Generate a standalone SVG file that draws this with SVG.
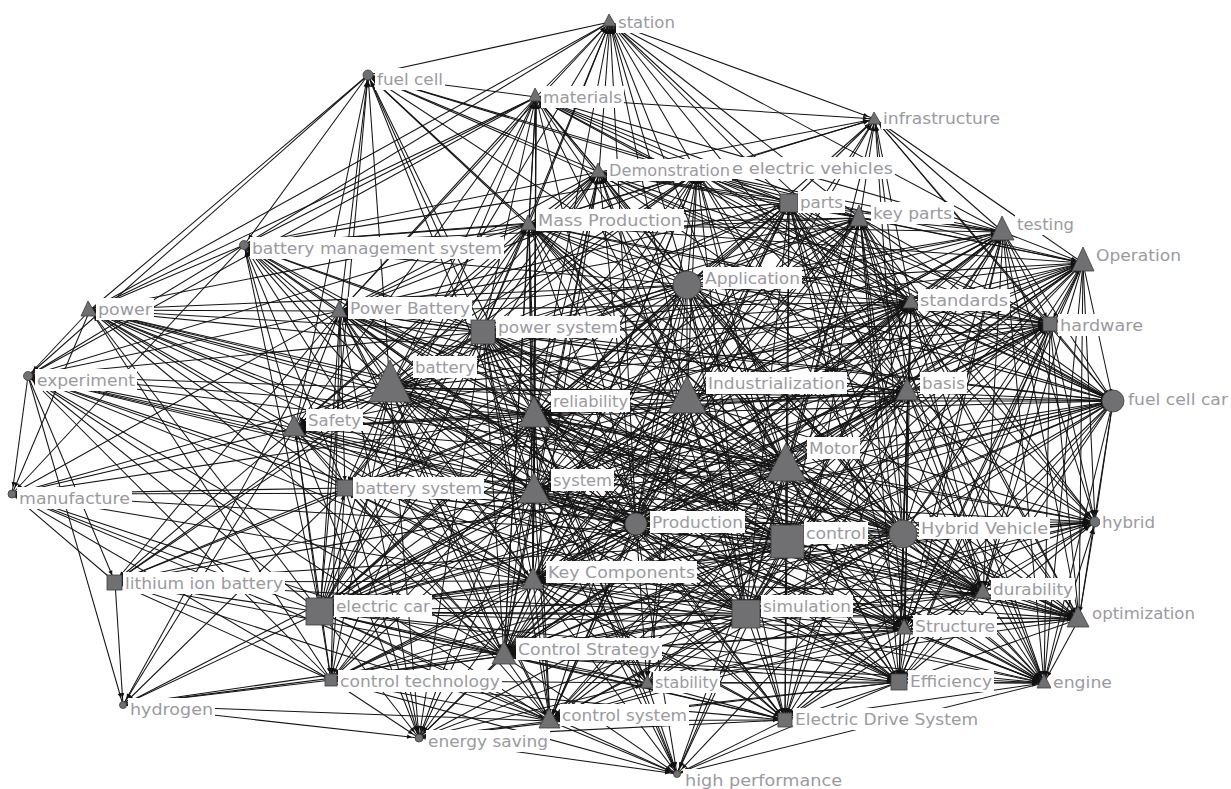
<svg xmlns="http://www.w3.org/2000/svg" width="1231" height="789" viewBox="0 0 1231 789">
<defs>
<style>
#connectors path{fill:none;stroke:#141414;stroke-width:1.05;marker-end:url(#ah)}
.n{fill:#707073;stroke:#3d3d3d;stroke-width:.8}
.b{fill:#fff}
.t{font-family:"DejaVu Sans","Liberation Sans",sans-serif;font-size:16.5px;fill:#9a9aa1}
</style>
<marker id="ah" markerUnits="userSpaceOnUse" markerWidth="14" markerHeight="6" refX="14" refY="3" orient="auto"><path d="M2 .9L7 3L2 5.1Z" fill="#111"/></marker>
</defs>
<rect width="1231" height="789" fill="#fff"/>
<g id="connectors">
<g id="e-ba">
<path d="M390 388L90 310"/><path d="M390 388L28 376"/><path d="M390 388L12 494"/><path d="M390 388L368 75"/><path d="M390 388L610 22"/><path d="M390 388L536 97"/><path d="M390 388L529 224"/><path d="M390 388L244 245"/><path d="M390 388L340 311"/><path d="M390 388L483 332"/><path d="M390 388L295 428"/><path d="M390 388L345 488"/><path d="M390 388L535 416"/><path d="M390 388L534 493"/><path d="M390 388L687 401"/><path d="M390 388L687 285"/><path d="M390 388L786 468"/><path d="M390 388L787 541"/><path d="M390 388L636 524"/><path d="M390 388L533 581"/><path d="M390 388L320 612"/><path d="M390 388L504 656"/><path d="M390 388L331 680"/><path d="M390 388L115 582"/><path d="M390 388L419 738"/><path d="M390 388L550 721"/><path d="M390 388L746 614"/><path d="M390 388L903 534"/><path d="M390 388L908 392"/><path d="M390 388L911 302"/><path d="M390 388L1113 401"/><path d="M390 388L983 593"/><path d="M390 388L1079 619"/><path d="M390 388L905 629"/><path d="M390 388L899 682"/><path d="M390 388L785 720"/><path d="M390 388L860 218"/><path d="M390 388L789 203"/><path d="M390 388L599 172"/><path d="M390 388L697 172"/><path d="M390 388L1003 232"/><path d="M390 388L1050 324"/>
</g>
<g id="e-id">
<path d="M687 401L610 22"/><path d="M687 401L536 97"/><path d="M687 401L599 172"/><path d="M687 401L697 172"/><path d="M687 401L789 203"/><path d="M687 401L860 218"/><path d="M687 401L1003 232"/><path d="M687 401L1083 263"/><path d="M687 401L529 224"/><path d="M687 401L687 285"/><path d="M687 401L911 302"/><path d="M687 401L1050 324"/><path d="M687 401L908 392"/><path d="M687 401L1113 401"/><path d="M687 401L483 332"/><path d="M687 401L340 311"/><path d="M687 401L535 416"/><path d="M687 401L534 493"/><path d="M687 401L636 524"/><path d="M687 401L787 541"/><path d="M687 401L786 468"/><path d="M687 401L903 534"/><path d="M687 401L1095 522"/><path d="M687 401L533 581"/><path d="M687 401L983 593"/><path d="M687 401L746 614"/><path d="M687 401L1079 619"/><path d="M687 401L905 629"/><path d="M687 401L504 656"/><path d="M687 401L320 612"/><path d="M687 401L295 428"/><path d="M687 401L345 488"/><path d="M687 401L244 245"/><path d="M687 401L875 119"/><path d="M687 401L899 682"/><path d="M687 401L1044 683"/><path d="M687 401L550 721"/><path d="M687 401L785 720"/><path d="M687 401L647 683"/>
</g>
<g id="e-mo">
<path d="M786 468L90 310"/><path d="M786 468L28 376"/><path d="M786 468L115 582"/><path d="M786 468L368 75"/><path d="M786 468L610 22"/><path d="M786 468L536 97"/><path d="M786 468L599 172"/><path d="M786 468L697 172"/><path d="M786 468L789 203"/><path d="M786 468L860 218"/><path d="M786 468L1003 232"/><path d="M786 468L1083 263"/><path d="M786 468L875 119"/><path d="M786 468L529 224"/><path d="M786 468L687 285"/><path d="M786 468L911 302"/><path d="M786 468L1050 324"/><path d="M786 468L908 392"/><path d="M786 468L1113 401"/><path d="M786 468L483 332"/><path d="M786 468L340 311"/><path d="M786 468L535 416"/><path d="M786 468L534 493"/><path d="M786 468L636 524"/><path d="M786 468L787 541"/><path d="M786 468L903 534"/><path d="M786 468L1095 522"/><path d="M786 468L533 581"/><path d="M786 468L983 593"/><path d="M786 468L746 614"/><path d="M786 468L1079 619"/><path d="M786 468L905 629"/><path d="M786 468L504 656"/><path d="M786 468L320 612"/><path d="M786 468L295 428"/><path d="M786 468L345 488"/><path d="M786 468L331 680"/><path d="M786 468L647 683"/><path d="M786 468L899 682"/><path d="M786 468L1044 683"/><path d="M786 468L550 721"/><path d="M786 468L785 720"/><path d="M786 468L677 774"/>
</g>
<g id="e-co">
<path d="M787 541L90 310"/><path d="M787 541L28 376"/><path d="M787 541L12 494"/><path d="M787 541L115 582"/><path d="M787 541L244 245"/><path d="M787 541L340 311"/><path d="M787 541L483 332"/><path d="M787 541L535 416"/><path d="M787 541L534 493"/><path d="M787 541L636 524"/><path d="M787 541L903 534"/><path d="M787 541L1095 522"/><path d="M787 541L533 581"/><path d="M787 541L983 593"/><path d="M787 541L746 614"/><path d="M787 541L1079 619"/><path d="M787 541L905 629"/><path d="M787 541L504 656"/><path d="M787 541L320 612"/><path d="M787 541L295 428"/><path d="M787 541L345 488"/><path d="M787 541L331 680"/><path d="M787 541L647 683"/><path d="M787 541L899 682"/><path d="M787 541L1044 683"/><path d="M787 541L550 721"/><path d="M787 541L785 720"/><path d="M787 541L419 738"/><path d="M787 541L677 774"/><path d="M787 541L687 285"/><path d="M787 541L911 302"/><path d="M787 541L908 392"/><path d="M787 541L1113 401"/><path d="M787 541L1050 324"/><path d="M787 541L1083 263"/><path d="M787 541L1003 232"/><path d="M787 541L860 218"/><path d="M787 541L789 203"/><path d="M787 541L697 172"/><path d="M787 541L529 224"/>
</g>
<g id="e-ap">
<path d="M687 285L610 22"/><path d="M687 285L368 75"/><path d="M687 285L536 97"/><path d="M687 285L875 119"/><path d="M687 285L599 172"/><path d="M687 285L697 172"/><path d="M687 285L789 203"/><path d="M687 285L860 218"/><path d="M687 285L1003 232"/><path d="M687 285L1083 263"/><path d="M687 285L529 224"/><path d="M687 285L244 245"/><path d="M687 285L90 310"/><path d="M687 285L340 311"/><path d="M687 285L483 332"/><path d="M687 285L911 302"/><path d="M687 285L1050 324"/><path d="M687 285L908 392"/><path d="M687 285L535 416"/><path d="M687 285L295 428"/><path d="M687 285L1113 401"/><path d="M687 285L534 493"/><path d="M687 285L345 488"/><path d="M687 285L636 524"/><path d="M687 285L903 534"/><path d="M687 285L1095 522"/><path d="M687 285L533 581"/><path d="M687 285L983 593"/><path d="M687 285L320 612"/><path d="M687 285L746 614"/><path d="M687 285L1079 619"/><path d="M687 285L905 629"/><path d="M687 285L504 656"/><path d="M687 285L331 680"/><path d="M687 285L647 683"/><path d="M687 285L899 682"/><path d="M687 285L1044 683"/><path d="M687 285L550 721"/><path d="M687 285L785 720"/>
</g>
<g id="e-re">
<path d="M535 416L90 310"/><path d="M535 416L28 376"/><path d="M535 416L12 494"/><path d="M535 416L610 22"/><path d="M535 416L368 75"/><path d="M535 416L536 97"/><path d="M535 416L599 172"/><path d="M535 416L697 172"/><path d="M535 416L789 203"/><path d="M535 416L860 218"/><path d="M535 416L1003 232"/><path d="M535 416L1083 263"/><path d="M535 416L529 224"/><path d="M535 416L244 245"/><path d="M535 416L340 311"/><path d="M535 416L483 332"/><path d="M535 416L911 302"/><path d="M535 416L1050 324"/><path d="M535 416L908 392"/><path d="M535 416L295 428"/><path d="M535 416L1113 401"/><path d="M535 416L534 493"/><path d="M535 416L345 488"/><path d="M535 416L636 524"/><path d="M535 416L903 534"/><path d="M535 416L1095 522"/><path d="M535 416L115 582"/><path d="M535 416L533 581"/><path d="M535 416L983 593"/><path d="M535 416L320 612"/><path d="M535 416L746 614"/><path d="M535 416L1079 619"/><path d="M535 416L905 629"/><path d="M535 416L504 656"/><path d="M535 416L331 680"/><path d="M535 416L647 683"/><path d="M535 416L899 682"/><path d="M535 416L1044 683"/><path d="M535 416L550 721"/><path d="M535 416L785 720"/><path d="M535 416L419 738"/><path d="M535 416L677 774"/>
</g>
<g id="e-sy">
<path d="M534 493L90 310"/><path d="M534 493L28 376"/><path d="M534 493L12 494"/><path d="M534 493L368 75"/><path d="M534 493L536 97"/><path d="M534 493L599 172"/><path d="M534 493L697 172"/><path d="M534 493L789 203"/><path d="M534 493L860 218"/><path d="M534 493L1003 232"/><path d="M534 493L1083 263"/><path d="M534 493L529 224"/><path d="M534 493L244 245"/><path d="M534 493L340 311"/><path d="M534 493L483 332"/><path d="M534 493L911 302"/><path d="M534 493L1050 324"/><path d="M534 493L908 392"/><path d="M534 493L295 428"/><path d="M534 493L1113 401"/><path d="M534 493L345 488"/><path d="M534 493L636 524"/><path d="M534 493L903 534"/><path d="M534 493L1095 522"/><path d="M534 493L115 582"/><path d="M534 493L533 581"/><path d="M534 493L983 593"/><path d="M534 493L320 612"/><path d="M534 493L746 614"/><path d="M534 493L1079 619"/><path d="M534 493L905 629"/><path d="M534 493L504 656"/><path d="M534 493L331 680"/><path d="M534 493L647 683"/><path d="M534 493L899 682"/><path d="M534 493L1044 683"/><path d="M534 493L123 705"/><path d="M534 493L550 721"/><path d="M534 493L785 720"/><path d="M534 493L419 738"/><path d="M534 493L677 774"/>
</g>
<g id="e-ps">
<path d="M483 332L610 22"/><path d="M483 332L368 75"/><path d="M483 332L536 97"/><path d="M483 332L599 172"/><path d="M483 332L697 172"/><path d="M483 332L789 203"/><path d="M483 332L860 218"/><path d="M483 332L1003 232"/><path d="M483 332L1083 263"/><path d="M483 332L529 224"/><path d="M483 332L244 245"/><path d="M483 332L90 310"/><path d="M483 332L340 311"/><path d="M483 332L911 302"/><path d="M483 332L1050 324"/><path d="M483 332L908 392"/><path d="M483 332L28 376"/><path d="M483 332L295 428"/><path d="M483 332L1113 401"/><path d="M483 332L345 488"/><path d="M483 332L636 524"/><path d="M483 332L903 534"/><path d="M483 332L115 582"/><path d="M483 332L533 581"/><path d="M483 332L983 593"/><path d="M483 332L320 612"/><path d="M483 332L746 614"/><path d="M483 332L1079 619"/><path d="M483 332L905 629"/><path d="M483 332L504 656"/><path d="M483 332L331 680"/><path d="M483 332L647 683"/><path d="M483 332L899 682"/><path d="M483 332L1044 683"/><path d="M483 332L550 721"/><path d="M483 332L785 720"/><path d="M483 332L419 738"/><path d="M483 332L677 774"/>
</g>
<g id="e-hv">
<path d="M903 534L536 97"/><path d="M903 534L599 172"/><path d="M903 534L697 172"/><path d="M903 534L789 203"/><path d="M903 534L860 218"/><path d="M903 534L1003 232"/><path d="M903 534L1083 263"/><path d="M903 534L875 119"/><path d="M903 534L529 224"/><path d="M903 534L911 302"/><path d="M903 534L1050 324"/><path d="M903 534L908 392"/><path d="M903 534L1113 401"/><path d="M903 534L340 311"/><path d="M903 534L295 428"/><path d="M903 534L345 488"/><path d="M903 534L636 524"/><path d="M903 534L1095 522"/><path d="M903 534L533 581"/><path d="M903 534L983 593"/><path d="M903 534L320 612"/><path d="M903 534L746 614"/><path d="M903 534L1079 619"/><path d="M903 534L905 629"/><path d="M903 534L504 656"/><path d="M903 534L331 680"/><path d="M903 534L647 683"/><path d="M903 534L899 682"/><path d="M903 534L1044 683"/><path d="M903 534L550 721"/><path d="M903 534L785 720"/><path d="M903 534L677 774"/><path d="M903 534L90 310"/>
</g>
<g id="e-si">
<path d="M746 614L90 310"/><path d="M746 614L28 376"/><path d="M746 614L115 582"/><path d="M746 614L697 172"/><path d="M746 614L789 203"/><path d="M746 614L860 218"/><path d="M746 614L1003 232"/><path d="M746 614L1083 263"/><path d="M746 614L529 224"/><path d="M746 614L911 302"/><path d="M746 614L1050 324"/><path d="M746 614L908 392"/><path d="M746 614L1113 401"/><path d="M746 614L340 311"/><path d="M746 614L295 428"/><path d="M746 614L345 488"/><path d="M746 614L636 524"/><path d="M746 614L1095 522"/><path d="M746 614L533 581"/><path d="M746 614L983 593"/><path d="M746 614L320 612"/><path d="M746 614L1079 619"/><path d="M746 614L905 629"/><path d="M746 614L504 656"/><path d="M746 614L331 680"/><path d="M746 614L647 683"/><path d="M746 614L899 682"/><path d="M746 614L1044 683"/><path d="M746 614L123 705"/><path d="M746 614L550 721"/><path d="M746 614L785 720"/><path d="M746 614L419 738"/><path d="M746 614L677 774"/><path d="M746 614L599 172"/>
</g>
<g id="e-ec">
<path d="M320 612L90 310"/><path d="M320 612L28 376"/><path d="M320 612L12 494"/><path d="M320 612L115 582"/><path d="M320 612L123 705"/><path d="M320 612L244 245"/><path d="M320 612L368 75"/><path d="M320 612L536 97"/><path d="M320 612L599 172"/><path d="M320 612L697 172"/><path d="M320 612L789 203"/><path d="M320 612L860 218"/><path d="M320 612L1003 232"/><path d="M320 612L1083 263"/><path d="M320 612L529 224"/><path d="M320 612L340 311"/><path d="M320 612L911 302"/><path d="M320 612L1050 324"/><path d="M320 612L908 392"/><path d="M320 612L1113 401"/><path d="M320 612L295 428"/><path d="M320 612L345 488"/><path d="M320 612L636 524"/><path d="M320 612L1095 522"/><path d="M320 612L533 581"/><path d="M320 612L983 593"/><path d="M320 612L1079 619"/><path d="M320 612L905 629"/><path d="M320 612L504 656"/><path d="M320 612L331 680"/><path d="M320 612L647 683"/><path d="M320 612L899 682"/><path d="M320 612L1044 683"/><path d="M320 612L550 721"/><path d="M320 612L785 720"/><path d="M320 612L419 738"/><path d="M320 612L677 774"/>
</g>
<g id="e-kc">
<path d="M533 581L90 310"/><path d="M533 581L28 376"/><path d="M533 581L12 494"/><path d="M533 581L115 582"/><path d="M533 581L244 245"/><path d="M533 581L536 97"/><path d="M533 581L599 172"/><path d="M533 581L697 172"/><path d="M533 581L789 203"/><path d="M533 581L860 218"/><path d="M533 581L1003 232"/><path d="M533 581L1083 263"/><path d="M533 581L529 224"/><path d="M533 581L340 311"/><path d="M533 581L911 302"/><path d="M533 581L1050 324"/><path d="M533 581L908 392"/><path d="M533 581L1113 401"/><path d="M533 581L295 428"/><path d="M533 581L345 488"/><path d="M533 581L636 524"/><path d="M533 581L1095 522"/><path d="M533 581L983 593"/><path d="M533 581L1079 619"/><path d="M533 581L905 629"/><path d="M533 581L504 656"/><path d="M533 581L331 680"/><path d="M533 581L647 683"/><path d="M533 581L899 682"/><path d="M533 581L1044 683"/><path d="M533 581L550 721"/><path d="M533 581L785 720"/><path d="M533 581L419 738"/><path d="M533 581L677 774"/>
</g>
<g id="e-cs">
<path d="M504 656L90 310"/><path d="M504 656L28 376"/><path d="M504 656L12 494"/><path d="M504 656L115 582"/><path d="M504 656L123 705"/><path d="M504 656L244 245"/><path d="M504 656L536 97"/><path d="M504 656L599 172"/><path d="M504 656L697 172"/><path d="M504 656L789 203"/><path d="M504 656L860 218"/><path d="M504 656L1003 232"/><path d="M504 656L1083 263"/><path d="M504 656L529 224"/><path d="M504 656L340 311"/><path d="M504 656L911 302"/><path d="M504 656L1050 324"/><path d="M504 656L908 392"/><path d="M504 656L1113 401"/><path d="M504 656L295 428"/><path d="M504 656L345 488"/><path d="M504 656L636 524"/><path d="M504 656L1095 522"/><path d="M504 656L983 593"/><path d="M504 656L1079 619"/><path d="M504 656L905 629"/><path d="M504 656L331 680"/><path d="M504 656L647 683"/><path d="M504 656L899 682"/><path d="M504 656L1044 683"/><path d="M504 656L550 721"/><path d="M504 656L785 720"/><path d="M504 656L419 738"/><path d="M504 656L677 774"/>
</g>
<g id="e-pr">
<path d="M636 524L90 310"/><path d="M636 524L28 376"/><path d="M636 524L610 22"/><path d="M636 524L536 97"/><path d="M636 524L599 172"/><path d="M636 524L697 172"/><path d="M636 524L789 203"/><path d="M636 524L860 218"/><path d="M636 524L1003 232"/><path d="M636 524L1083 263"/><path d="M636 524L875 119"/><path d="M636 524L529 224"/><path d="M636 524L244 245"/><path d="M636 524L340 311"/><path d="M636 524L911 302"/><path d="M636 524L1050 324"/><path d="M636 524L908 392"/><path d="M636 524L1113 401"/><path d="M636 524L295 428"/><path d="M636 524L345 488"/><path d="M636 524L1095 522"/><path d="M636 524L983 593"/><path d="M636 524L1079 619"/><path d="M636 524L905 629"/><path d="M636 524L331 680"/><path d="M636 524L647 683"/><path d="M636 524L899 682"/><path d="M636 524L1044 683"/><path d="M636 524L550 721"/><path d="M636 524L785 720"/><path d="M636 524L419 738"/><path d="M636 524L677 774"/>
</g>
<g id="e-sd">
<path d="M911 302L610 22"/><path d="M911 302L536 97"/><path d="M911 302L875 119"/><path d="M911 302L599 172"/><path d="M911 302L697 172"/><path d="M911 302L789 203"/><path d="M911 302L860 218"/><path d="M911 302L1003 232"/><path d="M911 302L1083 263"/><path d="M911 302L529 224"/><path d="M911 302L1050 324"/><path d="M911 302L908 392"/><path d="M911 302L1113 401"/><path d="M911 302L340 311"/><path d="M911 302L295 428"/><path d="M911 302L345 488"/><path d="M911 302L1095 522"/><path d="M911 302L983 593"/><path d="M911 302L1079 619"/><path d="M911 302L905 629"/><path d="M911 302L899 682"/><path d="M911 302L1044 683"/><path d="M911 302L550 721"/><path d="M911 302L785 720"/>
</g>
<g id="e-bs">
<path d="M908 392L610 22"/><path d="M908 392L875 119"/><path d="M908 392L599 172"/><path d="M908 392L697 172"/><path d="M908 392L789 203"/><path d="M908 392L860 218"/><path d="M908 392L1003 232"/><path d="M908 392L1083 263"/><path d="M908 392L529 224"/><path d="M908 392L1050 324"/><path d="M908 392L1113 401"/><path d="M908 392L340 311"/><path d="M908 392L295 428"/><path d="M908 392L1095 522"/><path d="M908 392L983 593"/><path d="M908 392L1079 619"/><path d="M908 392L905 629"/><path d="M908 392L899 682"/><path d="M908 392L1044 683"/><path d="M908 392L550 721"/><path d="M908 392L785 720"/><path d="M908 392L90 310"/>
</g>
<g id="e-kp">
<path d="M860 218L610 22"/><path d="M860 218L536 97"/><path d="M860 218L875 119"/><path d="M860 218L599 172"/><path d="M860 218L697 172"/><path d="M860 218L789 203"/><path d="M860 218L1003 232"/><path d="M860 218L1083 263"/><path d="M860 218L529 224"/><path d="M860 218L1050 324"/><path d="M860 218L1113 401"/><path d="M860 218L340 311"/><path d="M860 218L1095 522"/><path d="M860 218L983 593"/><path d="M860 218L1079 619"/><path d="M860 218L905 629"/><path d="M860 218L899 682"/><path d="M860 218L1044 683"/><path d="M860 218L785 720"/><path d="M860 218L244 245"/>
</g>
<g id="e-pa">
<path d="M789 203L610 22"/><path d="M789 203L536 97"/><path d="M789 203L875 119"/><path d="M789 203L599 172"/><path d="M789 203L697 172"/><path d="M789 203L1003 232"/><path d="M789 203L1083 263"/><path d="M789 203L529 224"/><path d="M789 203L1050 324"/><path d="M789 203L1113 401"/><path d="M789 203L340 311"/><path d="M789 203L1095 522"/><path d="M789 203L983 593"/><path d="M789 203L1079 619"/><path d="M789 203L905 629"/><path d="M789 203L899 682"/><path d="M789 203L1044 683"/><path d="M789 203L550 721"/><path d="M789 203L244 245"/><path d="M789 203L368 75"/>
</g>
<g id="e-te">
<path d="M1003 232L875 119"/><path d="M1003 232L599 172"/><path d="M1003 232L697 172"/><path d="M1003 232L1083 263"/><path d="M1003 232L529 224"/><path d="M1003 232L1050 324"/><path d="M1003 232L1113 401"/><path d="M1003 232L1095 522"/><path d="M1003 232L983 593"/><path d="M1003 232L1079 619"/><path d="M1003 232L905 629"/><path d="M1003 232L899 682"/><path d="M1003 232L1044 683"/><path d="M1003 232L536 97"/><path d="M1003 232L610 22"/>
</g>
<g id="e-op">
<path d="M1083 263L875 119"/><path d="M1083 263L697 172"/><path d="M1083 263L1050 324"/><path d="M1083 263L1113 401"/><path d="M1083 263L1095 522"/><path d="M1083 263L983 593"/><path d="M1083 263L1079 619"/><path d="M1083 263L905 629"/><path d="M1083 263L899 682"/><path d="M1083 263L1044 683"/><path d="M1083 263L529 224"/>
</g>
<g id="e-hw">
<path d="M1050 324L875 119"/><path d="M1050 324L697 172"/><path d="M1050 324L529 224"/><path d="M1050 324L1113 401"/><path d="M1050 324L1095 522"/><path d="M1050 324L983 593"/><path d="M1050 324L1079 619"/><path d="M1050 324L905 629"/><path d="M1050 324L899 682"/><path d="M1050 324L1044 683"/><path d="M1050 324L599 172"/>
</g>
<g id="e-fcc">
<path d="M1113 401L368 75"/><path d="M1113 401L875 119"/><path d="M1113 401L536 97"/><path d="M1113 401L599 172"/><path d="M1113 401L697 172"/><path d="M1113 401L529 224"/><path d="M1113 401L1095 522"/><path d="M1113 401L983 593"/><path d="M1113 401L1079 619"/><path d="M1113 401L905 629"/><path d="M1113 401L899 682"/><path d="M1113 401L1044 683"/><path d="M1113 401L340 311"/><path d="M1113 401L785 720"/>
</g>
<g id="e-du">
<path d="M983 593L697 172"/><path d="M983 593L529 224"/><path d="M983 593L1095 522"/><path d="M983 593L1079 619"/><path d="M983 593L905 629"/><path d="M983 593L899 682"/><path d="M983 593L1044 683"/><path d="M983 593L340 311"/><path d="M983 593L550 721"/><path d="M983 593L785 720"/>
</g>
<g id="e-oz">
<path d="M1079 619L1095 522"/><path d="M1079 619L905 629"/><path d="M1079 619L899 682"/><path d="M1079 619L1044 683"/><path d="M1079 619L345 488"/><path d="M1079 619L647 683"/><path d="M1079 619L529 224"/>
</g>
<g id="e-su">
<path d="M905 629L1095 522"/><path d="M905 629L899 682"/><path d="M905 629L1044 683"/><path d="M905 629L785 720"/><path d="M905 629L647 683"/><path d="M905 629L550 721"/>
</g>
<g id="e-ef">
<path d="M899 682L1095 522"/><path d="M899 682L1044 683"/><path d="M899 682L785 720"/><path d="M899 682L647 683"/><path d="M899 682L677 774"/><path d="M899 682L419 738"/><path d="M899 682L550 721"/>
</g>
<g id="e-csy">
<path d="M550 721L419 738"/><path d="M550 721L677 774"/><path d="M550 721L785 720"/><path d="M550 721L647 683"/><path d="M550 721L115 582"/><path d="M550 721L123 705"/><path d="M550 721L331 680"/><path d="M550 721L12 494"/><path d="M550 721L28 376"/><path d="M550 721L345 488"/><path d="M550 721L340 311"/>
</g>
<g id="e-eds">
<path d="M785 720L677 774"/><path d="M785 720L419 738"/><path d="M785 720L647 683"/><path d="M785 720L1044 683"/><path d="M785 720L331 680"/><path d="M785 720L345 488"/>
</g>
<g id="e-mp">
<path d="M529 224L610 22"/><path d="M529 224L536 97"/><path d="M529 224L368 75"/><path d="M529 224L599 172"/><path d="M529 224L697 172"/><path d="M529 224L875 119"/><path d="M529 224L340 311"/><path d="M529 224L244 245"/><path d="M529 224L90 310"/><path d="M529 224L295 428"/><path d="M529 224L345 488"/><path d="M529 224L28 376"/>
</g>
<g id="e-de">
<path d="M599 172L610 22"/><path d="M599 172L536 97"/><path d="M599 172L368 75"/><path d="M599 172L875 119"/><path d="M599 172L697 172"/><path d="M599 172L340 311"/><path d="M599 172L244 245"/><path d="M599 172L295 428"/><path d="M599 172L345 488"/>
</g>
<g id="e-pe">
<path d="M697 172L610 22"/><path d="M697 172L536 97"/><path d="M697 172L368 75"/><path d="M697 172L875 119"/><path d="M697 172L340 311"/><path d="M697 172L244 245"/><path d="M697 172L295 428"/>
</g>
<g id="e-ma">
<path d="M536 97L610 22"/><path d="M536 97L368 75"/><path d="M536 97L875 119"/><path d="M536 97L340 311"/><path d="M536 97L244 245"/><path d="M536 97L90 310"/><path d="M536 97L28 376"/><path d="M536 97L295 428"/>
</g>
<g id="e-sf">
<path d="M295 428L90 310"/><path d="M295 428L28 376"/><path d="M295 428L12 494"/><path d="M295 428L115 582"/><path d="M295 428L244 245"/><path d="M295 428L340 311"/><path d="M295 428L345 488"/><path d="M295 428L123 705"/><path d="M295 428L331 680"/><path d="M295 428L419 738"/><path d="M295 428L368 75"/>
</g>
<g id="e-pb">
<path d="M340 311L90 310"/><path d="M340 311L28 376"/><path d="M340 311L12 494"/><path d="M340 311L115 582"/><path d="M340 311L244 245"/><path d="M340 311L345 488"/><path d="M340 311L331 680"/><path d="M340 311L123 705"/><path d="M340 311L419 738"/><path d="M340 311L368 75"/><path d="M340 311L610 22"/>
</g>
<g id="e-bsy">
<path d="M345 488L90 310"/><path d="M345 488L28 376"/><path d="M345 488L12 494"/><path d="M345 488L115 582"/><path d="M345 488L244 245"/><path d="M345 488L331 680"/><path d="M345 488L123 705"/><path d="M345 488L419 738"/>
</g>
<g id="e-misc">
<path d="M647 683L677 774"/><path d="M647 683L419 738"/><path d="M647 683L331 680"/><path d="M647 683L1044 683"/><path d="M647 683L1095 522"/>
<path d="M1044 683L1095 522"/><path d="M1044 683L677 774"/>
<path d="M331 680L115 582"/><path d="M331 680L123 705"/><path d="M331 680L419 738"/><path d="M331 680L677 774"/><path d="M331 680L12 494"/><path d="M331 680L28 376"/><path d="M331 680L90 310"/>
<path d="M610 22L368 75"/><path d="M610 22L875 119"/><path d="M610 22L244 245"/><path d="M610 22L90 310"/>
<path d="M368 75L244 245"/><path d="M368 75L90 310"/><path d="M368 75L28 376"/>
<path d="M244 245L90 310"/><path d="M244 245L28 376"/><path d="M244 245L12 494"/>
<path d="M90 310L28 376"/><path d="M90 310L12 494"/>
<path d="M28 376L12 494"/><path d="M28 376L115 582"/><path d="M28 376L123 705"/>
<path d="M115 582L123 705"/><path d="M115 582L12 494"/>
<path d="M123 705L419 738"/><path d="M419 738L677 774"/>
</g>
</g>
<g id="n-pure-electric-vehicles"><polygon class="n" points="697,165 691,177 703,177"/><rect class="b" x="730" y="157" width="165" height="22"/><text class="t" x="732" y="174" textLength="161" lengthAdjust="spacingAndGlyphs">e electric vehicles</text></g>
<g id="n-station"><polygon class="n" points="609,14 603,26 616,26"/><rect class="b" x="616" y="11" width="61" height="22"/><text class="t" x="618" y="28" textLength="57" lengthAdjust="spacingAndGlyphs">station</text></g>
<g id="n-fuel-cell"><circle class="n" cx="368" cy="75" r="5"/><rect class="b" x="375" y="68" width="70" height="22"/><text class="t" x="377" y="85" textLength="66" lengthAdjust="spacingAndGlyphs">fuel cell</text></g>
<g id="n-materials"><polygon class="n" points="535,88 529,101 542,101"/><rect class="b" x="541" y="86" width="83" height="22"/><text class="t" x="543" y="103" textLength="79" lengthAdjust="spacingAndGlyphs">materials</text></g>
<g id="n-infrastructure"><polygon class="n" points="874,112 868,124 881,124"/><rect class="b" x="881" y="107" width="121" height="22"/><text class="t" x="883" y="124" textLength="117" lengthAdjust="spacingAndGlyphs">infrastructure</text></g>
<g id="n-demonstration"><polygon class="n" points="598,163 591,177 606,177"/><rect class="b" x="607" y="159" width="125" height="22"/><text class="t" x="609" y="176" textLength="121" lengthAdjust="spacingAndGlyphs">Demonstration</text></g>
<g id="n-parts"><rect class="n" x="780" y="194" width="18" height="18"/><rect class="b" x="798" y="191" width="47" height="22"/><text class="t" x="800" y="208" textLength="43" lengthAdjust="spacingAndGlyphs">parts</text></g>
<g id="n-key-parts"><polygon class="n" points="859,205 850,226 868,226"/><rect class="b" x="871" y="202" width="83" height="22"/><text class="t" x="873" y="219" textLength="79" lengthAdjust="spacingAndGlyphs">key parts</text></g>
<g id="n-testing"><polygon class="n" points="1002,216 991,240 1014,240"/><rect class="b" x="1015" y="213" width="61" height="22"/><text class="t" x="1017" y="230" textLength="57" lengthAdjust="spacingAndGlyphs">testing</text></g>
<g id="n-mass-production"><polygon class="n" points="528,215 521,230 536,230"/><rect class="b" x="536" y="209" width="148" height="22"/><text class="t" x="538" y="226" textLength="144" lengthAdjust="spacingAndGlyphs">Mass Production</text></g>
<g id="n-bms"><circle class="n" cx="244" cy="245" r="4.5"/><rect class="b" x="250" y="237" width="254" height="22"/><text class="t" x="252" y="254" textLength="250" lengthAdjust="spacingAndGlyphs">battery management system</text></g>
<g id="n-operation"><polygon class="n" points="1083,247 1072,271 1094,271"/><rect class="b" x="1094" y="244" width="89" height="22"/><text class="t" x="1096" y="261" textLength="85" lengthAdjust="spacingAndGlyphs">Operation</text></g>
<g id="n-application"><circle class="n" cx="687" cy="285" r="14"/><rect class="b" x="703" y="267" width="99" height="22"/><text class="t" x="705" y="284" textLength="95" lengthAdjust="spacingAndGlyphs">Application</text></g>
<g id="n-power"><polygon class="n" points="88,301 81,316 97,316"/><rect class="b" x="96" y="298" width="58" height="22"/><text class="t" x="98" y="315" textLength="54" lengthAdjust="spacingAndGlyphs">power</text></g>
<g id="n-power-battery"><polygon class="n" points="339,301 331,317 347,317"/><rect class="b" x="348" y="297" width="124" height="22"/><text class="t" x="350" y="314" textLength="120" lengthAdjust="spacingAndGlyphs">Power Battery</text></g>
<g id="n-power-system"><rect class="n" x="471" y="320" width="24" height="24"/><rect class="b" x="496" y="316" width="124" height="22"/><text class="t" x="498" y="333" textLength="120" lengthAdjust="spacingAndGlyphs">power system</text></g>
<g id="n-standards"><polygon class="n" points="911,293 903,308 919,308"/><rect class="b" x="918" y="289" width="92" height="22"/><text class="t" x="920" y="306" textLength="88" lengthAdjust="spacingAndGlyphs">standards</text></g>
<g id="n-hardware"><rect class="n" x="1043" y="317" width="14" height="14"/><rect class="b" x="1058" y="314" width="87" height="22"/><text class="t" x="1060" y="331" textLength="83" lengthAdjust="spacingAndGlyphs">hardware</text></g>
<g id="n-experiment"><circle class="n" cx="28" cy="376" r="4.5"/><rect class="b" x="35" y="369" width="102" height="22"/><text class="t" x="37" y="386" textLength="98" lengthAdjust="spacingAndGlyphs">experiment</text></g>
<g id="n-battery"><polygon class="n" points="390,360 369,402 411,402"/><rect class="b" x="413" y="356" width="64" height="22"/><text class="t" x="415" y="373" textLength="60" lengthAdjust="spacingAndGlyphs">battery</text></g>
<g id="n-industrialization"><polygon class="n" points="687,376 668,413 706,413"/><rect class="b" x="706" y="372" width="141" height="22"/><text class="t" x="708" y="389" textLength="137" lengthAdjust="spacingAndGlyphs">Industrialization</text></g>
<g id="n-basis"><polygon class="n" points="907,378 896,400 918,400"/><rect class="b" x="920" y="372" width="47" height="22"/><text class="t" x="922" y="389" textLength="43" lengthAdjust="spacingAndGlyphs">basis</text></g>
<g id="n-reliability"><polygon class="n" points="534,396 519,427 550,427"/><rect class="b" x="551" y="390" width="79" height="22"/><text class="t" x="553" y="407" textLength="75" lengthAdjust="spacingAndGlyphs">reliability</text></g>
<g id="n-safety"><polygon class="n" points="294,415 283,436 305,436"/><rect class="b" x="306" y="409" width="57" height="22"/><text class="t" x="308" y="426" textLength="53" lengthAdjust="spacingAndGlyphs">Safety</text></g>
<g id="n-fuel-cell-car"><circle class="n" cx="1113" cy="401" r="11"/><rect class="b" x="1126" y="388" width="104" height="22"/><text class="t" x="1128" y="405" textLength="100" lengthAdjust="spacingAndGlyphs">fuel cell car</text></g>
<g id="n-motor"><polygon class="n" points="786,443 766,481 806,481"/><rect class="b" x="807" y="437" width="53" height="22"/><text class="t" x="809" y="454" textLength="49" lengthAdjust="spacingAndGlyphs">Motor</text></g>
<g id="n-system"><polygon class="n" points="534,473 518,503 550,503"/><rect class="b" x="551" y="469" width="63" height="22"/><text class="t" x="553" y="486" textLength="59" lengthAdjust="spacingAndGlyphs">system</text></g>
<g id="n-battery-system"><rect class="n" x="337" y="480" width="16" height="16"/><rect class="b" x="353" y="477" width="131" height="22"/><text class="t" x="355" y="494" textLength="127" lengthAdjust="spacingAndGlyphs">battery system</text></g>
<g id="n-manufacture"><circle class="n" cx="12" cy="494" r="4"/><rect class="b" x="17" y="487" width="115" height="22"/><text class="t" x="19" y="504" textLength="111" lengthAdjust="spacingAndGlyphs">manufacture</text></g>
<g id="n-production"><circle class="n" cx="636" cy="524" r="11"/><rect class="b" x="650" y="511" width="95" height="22"/><text class="t" x="652" y="528" textLength="91" lengthAdjust="spacingAndGlyphs">Production</text></g>
<g id="n-control"><rect class="n" x="771" y="525" width="33" height="33"/><rect class="b" x="804" y="522" width="64" height="22"/><text class="t" x="806" y="539" textLength="60" lengthAdjust="spacingAndGlyphs">control</text></g>
<g id="n-hybrid-vehicle"><circle class="n" cx="903" cy="534" r="14"/><rect class="b" x="919" y="517" width="131" height="22"/><text class="t" x="921" y="534" textLength="127" lengthAdjust="spacingAndGlyphs">Hybrid Vehicle</text></g>
<g id="n-hybrid"><circle class="n" cx="1095" cy="522" r="5"/><rect class="b" x="1100" y="511" width="57" height="22"/><text class="t" x="1102" y="528" textLength="53" lengthAdjust="spacingAndGlyphs">hybrid</text></g>
<g id="n-lithium-ion-battery"><rect class="n" x="107" y="575" width="15" height="15"/><rect class="b" x="123" y="572" width="162" height="22"/><text class="t" x="125" y="589" textLength="158" lengthAdjust="spacingAndGlyphs">lithium ion battery</text></g>
<g id="n-key-components"><polygon class="n" points="533,567 522,589 544,589"/><rect class="b" x="546" y="561" width="151" height="22"/><text class="t" x="548" y="578" textLength="147" lengthAdjust="spacingAndGlyphs">Key Components</text></g>
<g id="n-durability"><polygon class="n" points="983,583 975,598 991,598"/><rect class="b" x="991" y="578" width="84" height="22"/><text class="t" x="993" y="595" textLength="80" lengthAdjust="spacingAndGlyphs">durability</text></g>
<g id="n-electric-car"><rect class="n" x="306" y="598" width="27" height="27"/><rect class="b" x="334" y="595" width="98" height="22"/><text class="t" x="336" y="612" textLength="94" lengthAdjust="spacingAndGlyphs">electric car</text></g>
<g id="n-simulation"><rect class="n" x="732" y="600" width="28" height="28"/><rect class="b" x="761" y="595" width="92" height="22"/><text class="t" x="763" y="612" textLength="88" lengthAdjust="spacingAndGlyphs">simulation</text></g>
<g id="n-optimization"><polygon class="n" points="1078,606 1067,627 1089,627"/><rect class="b" x="1090" y="602" width="107" height="22"/><text class="t" x="1092" y="619" textLength="103" lengthAdjust="spacingAndGlyphs">optimization</text></g>
<g id="n-structure"><polygon class="n" points="904,619 897,634 912,634"/><rect class="b" x="913" y="615" width="84" height="22"/><text class="t" x="915" y="632" textLength="80" lengthAdjust="spacingAndGlyphs">Structure</text></g>
<g id="n-control-strategy"><polygon class="n" points="504,641 492,664 516,664"/><rect class="b" x="516" y="638" width="146" height="22"/><text class="t" x="518" y="655" textLength="142" lengthAdjust="spacingAndGlyphs">Control Strategy</text></g>
<g id="n-control-technology"><rect class="n" x="325" y="674" width="12" height="12"/><rect class="b" x="338" y="670" width="164" height="22"/><text class="t" x="340" y="687" textLength="160" lengthAdjust="spacingAndGlyphs">control technology</text></g>
<g id="n-stability"><polygon class="n" points="647,675 641,688 654,688"/><rect class="b" x="653" y="671" width="67" height="22"/><text class="t" x="655" y="688" textLength="63" lengthAdjust="spacingAndGlyphs">stability</text></g>
<g id="n-efficiency"><rect class="n" x="891" y="674" width="16" height="16"/><rect class="b" x="908" y="670" width="86" height="22"/><text class="t" x="910" y="687" textLength="82" lengthAdjust="spacingAndGlyphs">Efficiency</text></g>
<g id="n-engine"><polygon class="n" points="1044,674 1037,688 1051,688"/><rect class="b" x="1051" y="671" width="63" height="22"/><text class="t" x="1053" y="688" textLength="59" lengthAdjust="spacingAndGlyphs">engine</text></g>
<g id="n-hydrogen"><circle class="n" cx="123" cy="705" r="3.5"/><rect class="b" x="128" y="698" width="87" height="22"/><text class="t" x="130" y="715" textLength="83" lengthAdjust="spacingAndGlyphs">hydrogen</text></g>
<g id="n-control-system"><polygon class="n" points="549,708 539,728 560,728"/><rect class="b" x="560" y="704" width="129" height="22"/><text class="t" x="562" y="721" textLength="125" lengthAdjust="spacingAndGlyphs">control system</text></g>
<g id="n-electric-drive-system"><rect class="n" x="778" y="713" width="14" height="14"/><rect class="b" x="793" y="708" width="187" height="22"/><text class="t" x="795" y="725" textLength="183" lengthAdjust="spacingAndGlyphs">Electric Drive System</text></g>
<g id="n-energy-saving"><circle class="n" cx="419" cy="738" r="4"/><rect class="b" x="426" y="730" width="124" height="22"/><text class="t" x="428" y="747" textLength="120" lengthAdjust="spacingAndGlyphs">energy saving</text></g>
<g id="n-high-performance"><circle class="n" cx="677" cy="774" r="3.5"/><rect class="b" x="683" y="769" width="161" height="20"/><text class="t" x="685" y="786" textLength="157" lengthAdjust="spacingAndGlyphs">high performance</text></g>
</svg>
